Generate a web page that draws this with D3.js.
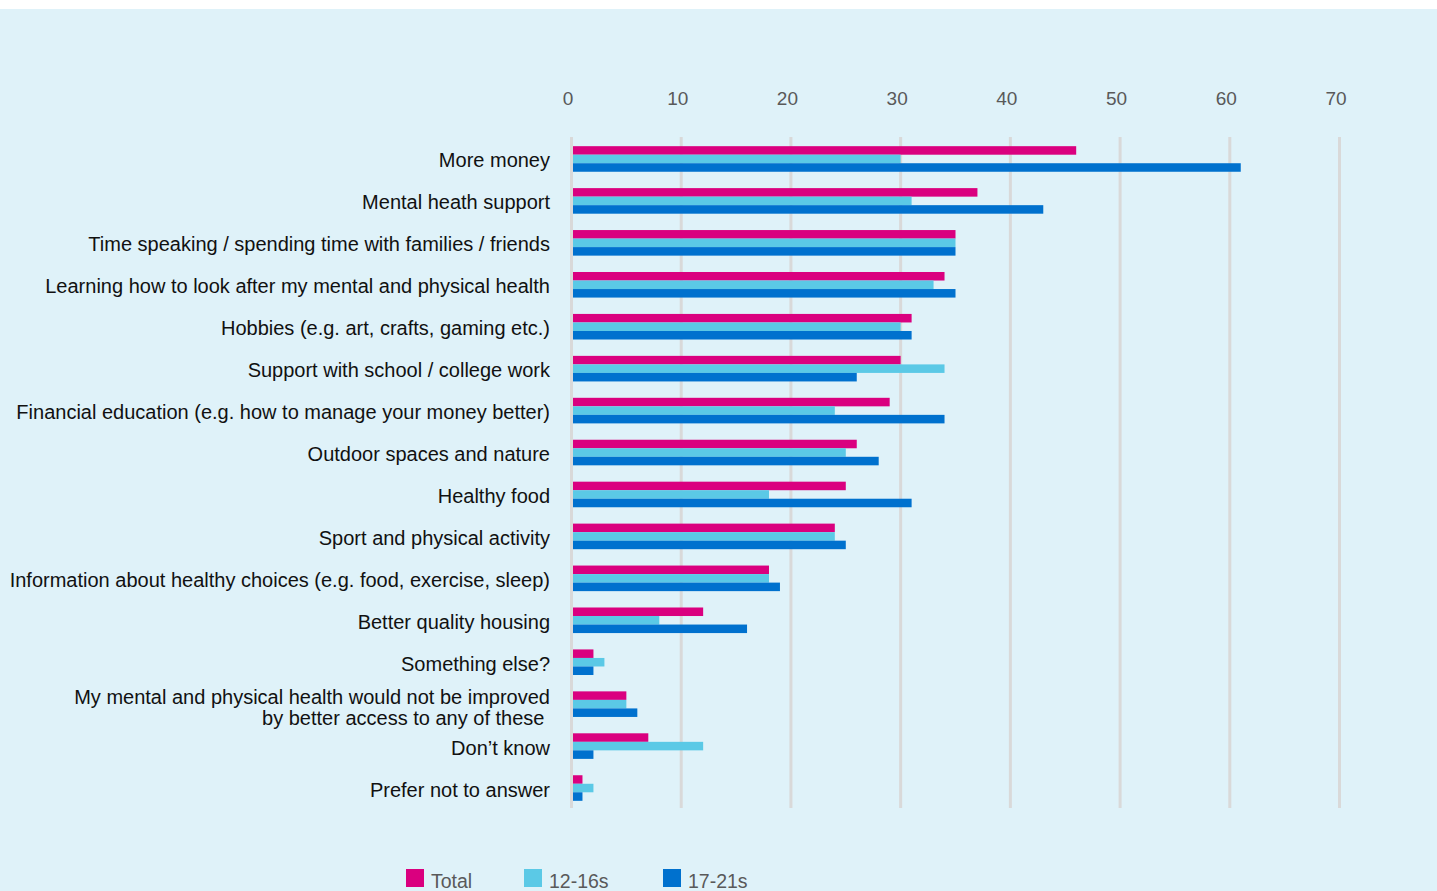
<!DOCTYPE html>
<html>
<head>
<meta charset="utf-8">
<script src="https://cdn.jsdelivr.net/npm/d3@7"></script>
<style>
  html, body { margin: 0; padding: 0; background: #ffffff; }
  svg { display: block; }
</style>
</head>
<body>
<svg id="chart" width="1437" height="891"></svg>
<script>
// Categories, top to bottom
const categories = [
  "More money",
  "Mental heath support",
  "Time speaking / spending time with families / friends",
  "Learning how to look after my mental and physical health",
  "Hobbies (e.g. art, crafts, gaming etc.)",
  "Support with school / college work",
  "Financial education (e.g. how to manage your money better)",
  "Outdoor spaces and nature",
  "Healthy food",
  "Sport and physical activity",
  "Information about healthy choices (e.g. food, exercise, sleep)",
  "Better quality housing",
  "Something else?",
  "My mental and physical health would not be improved|by better access to any of these ",
  "Don\u2019t know",
  "Prefer not to answer"
];

// Percentages per group
const totalValues = [46, 37, 35, 34, 31, 30, 29, 26, 25, 24, 18, 12, 2, 5, 7, 1];
const age1216Values = [30, 31, 35, 33, 30, 34, 24, 25, 18, 24, 18, 8, 3, 5, 12, 2];
const age1721Values = [61, 43, 35, 35, 31, 26, 34, 28, 31, 25, 19, 16, 2, 6, 2, 1];

const seriesNames = ["Total", "12-16s", "17-21s"];
const seriesColors = ["#da007f", "#5bc9e6", "#0071ce"];
const tickValues = [0, 10, 20, 30, 40, 50, 60, 70];

const series = [totalValues, age1216Values, age1721Values];

const FONT = "'Liberation Sans', Arial, Helvetica, sans-serif";
const svg = d3.select("#chart");
const W = 1437, H = 891;

// Panel background below the thin white top strip
svg.append("rect")
  .attr("x", 0).attr("y", 9)
  .attr("width", W).attr("height", H - 9)
  .attr("fill", "#dff2f9");

const x = d3.scaleLinear().domain([0, 70]).range([571.5, 1339.5]);

const y = d3.scaleBand()
  .domain(categories)
  .range([138, 809])
  .paddingInner(0.39)
  .paddingOuter(0.195);

const sub = d3.scaleBand()
  .domain(seriesNames)
  .range([0, y.bandwidth()]);

// Vertical gridlines
svg.append("g")
  .selectAll("line")
  .data(tickValues)
  .join("line")
  .attr("x1", d => x(d)).attr("x2", d => x(d))
  .attr("y1", 137).attr("y2", 808)
  .attr("stroke", "#d9d9d9")
  .attr("stroke-width", 3);

// Top axis labels
const axis = d3.axisTop(x).tickValues(tickValues).tickSize(0).tickPadding(0);
const axisG = svg.append("g")
  .attr("transform", "translate(-4,105)")
  .call(axis);
axisG.select(".domain").remove();
axisG.selectAll("text")
  .attr("fill", "#595959")
  .attr("font-family", FONT)
  .attr("font-size", "19px");

// Bars
const groups = svg.append("g")
  .selectAll("g")
  .data(categories.map((c, i) => ({ c, i })))
  .join("g")
  .attr("transform", d => `translate(0,${y(d.c)})`);

groups.selectAll("rect")
  .data(d => seriesNames.map((s, k) => ({ s, k, v: series[k][d.i] })))
  .join("rect")
  .attr("x", x(0) + 1.5)
  .attr("y", d => sub(d.s))
  .attr("width", d => x(d.v) - x(0) - 1.5)
  .attr("height", sub.bandwidth())
  .attr("fill", d => seriesColors[d.k]);

// Category labels (a "|" splits a label onto two lines)
const labelG = svg.append("g")
  .attr("font-family", FONT)
  .attr("font-size", "20px")
  .attr("fill", "#111111")
  .attr("text-anchor", "end");

categories.forEach(c => {
  const cy = y(c) + y.bandwidth() / 2;
  const lines = c.split("|");
  const t = labelG.append("text")
    .attr("x", 550)
    .attr("xml:space", "preserve")
    .style("white-space", "pre");
  if (lines.length === 1) {
    t.attr("y", cy + 8.5).text(c);
  } else {
    t.append("tspan").attr("x", 550).attr("y", cy - 0.5).text(lines[0]);
    t.append("tspan").attr("x", 550).attr("y", cy + 20.5).text(lines[1]);
  }
});

// Legend
const legendX = [406, 524, 663];
const legend = svg.append("g")
  .selectAll("g")
  .data(seriesNames)
  .join("g")
  .attr("transform", (d, i) => `translate(${legendX[i]},869)`);
legend.append("rect")
  .attr("width", 18).attr("height", 18)
  .attr("fill", (d, i) => seriesColors[i]);
legend.append("text")
  .attr("x", 25).attr("y", 19)
  .attr("font-family", FONT)
  .attr("font-size", "19.5px")
  .attr("fill", "#595959")
  .text(d => d);
</script>
</body>
</html>
